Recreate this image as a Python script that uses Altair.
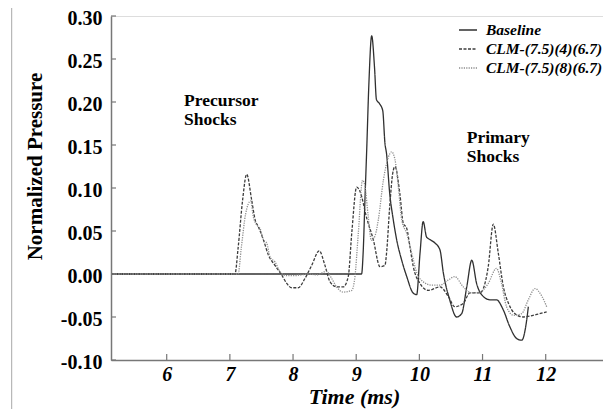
import altair as alt
import pandas as pd

series_names = ["Baseline", "CLM-(7.5)(4)(6.7)", "CLM-(7.5)(8)(6.7)"]

baseline_t = [5.118, 9.085, 9.11, 9.14, 9.166, 9.20, 9.245, 9.29, 9.32, 9.37, 9.42, 9.455, 9.48, 9.53,
              9.587, 9.64, 9.72, 9.80, 9.90, 9.957, 10.01, 10.06, 10.114, 10.168, 10.247, 10.326,
              10.38, 10.48, 10.59, 10.67, 10.75, 10.83, 10.906, 11.01, 11.118, 11.22, 11.33, 11.43,
              11.54, 11.62, 11.70, 11.725]
baseline_v = [0.0, 0.0, 0.025, 0.09, 0.144, 0.22, 0.277, 0.24, 0.203, 0.198, 0.19, 0.152, 0.14, 0.094,
              0.063, 0.040, 0.016, -0.003, -0.022, -0.024, 0.024, 0.061, 0.043, 0.040, 0.036, 0.028,
              0.001, -0.030, -0.050, -0.046, -0.015, 0.016, -0.011, -0.026, -0.030, -0.030, -0.042, -0.061,
              -0.075, -0.077, -0.053, -0.038]

clm4_t = [5.118, 7.08, 7.13, 7.20, 7.266, 7.345, 7.40, 7.45, 7.53, 7.61, 7.714, 7.82, 7.90, 7.98, 8.08,
          8.19, 8.295, 8.415, 8.505, 8.585, 8.69, 8.795, 8.874, 8.93, 9.007, 9.06, 9.166, 9.27, 9.376,
          9.455, 9.48, 9.53, 9.58, 9.614, 9.69, 9.745, 9.80, 9.85, 9.904, 10.01, 10.14, 10.326, 10.457,
          10.56, 10.695, 10.80, 10.96, 11.09, 11.17, 11.25, 11.33, 11.41, 11.51, 11.645, 11.80, 12.015]
clm4_v = [0.0, 0.0, 0.03, 0.085, 0.116, 0.086, 0.063, 0.055, 0.040, 0.022, 0.010, -0.001, -0.011, -0.016, -0.016,
          -0.005, 0.010, 0.027, 0.010, -0.009, -0.015, -0.015, -0.003, 0.048, 0.101, 0.096, 0.065, 0.040, 0.0085,
          0.010, 0.024, 0.078, 0.118, 0.125, 0.094, 0.059, 0.053, 0.032, 0.0085, -0.011, -0.019, -0.015, -0.026,
          -0.038, -0.034, -0.022, -0.022, 0.0085, 0.058, 0.024, -0.015, -0.034, -0.046, -0.050, -0.048, -0.044]

clm8_t = [5.118, 7.13, 7.18, 7.25, 7.33, 7.37, 7.424, 7.477, 7.53, 7.583, 7.635, 7.714, 7.793, 7.90, 8.004,
          8.137, 8.24, 8.374, 8.53, 8.61, 8.69, 8.795, 8.93, 8.98, 9.033, 9.10, 9.137, 9.19, 9.24, 9.30,
          9.35, 9.43, 9.51, 9.56, 9.614, 9.666, 9.72, 9.80, 9.88, 9.96, 10.06, 10.195, 10.326, 10.457,
          10.56, 10.695, 10.83, 10.96, 11.09, 11.22, 11.30, 11.38, 11.49, 11.62, 11.725, 11.83, 11.94, 12.015]
clm8_v = [0.0, 0.0, 0.03, 0.07, 0.085, 0.067, 0.057, 0.053, 0.040, 0.036, 0.020, 0.014, 0.003, -0.002, -0.002,
          -0.001, 0.0, -0.001, 0.003, -0.005, -0.015, -0.021, -0.019, -0.003, 0.047, 0.109, 0.103, 0.067, 0.039, 0.045,
          0.063, 0.109, 0.136, 0.142, 0.133, 0.102, 0.063, 0.047, 0.024, 0.001, -0.009, -0.013, -0.013, -0.007,
          -0.003, -0.015, -0.022, -0.021, -0.011, 0.0066, -0.011, -0.038, -0.048, -0.046, -0.030, -0.017, -0.026, -0.038]

x_ticks = [6, 7, 8, 9, 10, 11, 12]
y_ticks = [-0.10, -0.05, 0.00, 0.05, 0.10, 0.15, 0.20, 0.25, 0.30]

ann_text = ["Precursor", "Shocks", "Primary", "Shocks"]
ann_t = [6.274, 6.274, 10.749, 10.749]
ann_v = [0.195, 0.173, 0.152, 0.1306]

rows = []
for name, ts, vs in [(series_names[0], baseline_t, baseline_v),
                     (series_names[1], clm4_t, clm4_v),
                     (series_names[2], clm8_t, clm8_v)]:
    for i, (t, v) in enumerate(zip(ts, vs)):
        rows.append({"series": name, "t": t, "v": v, "i": i})
df = pd.DataFrame(rows)

XDOM = [5.118, 12.907]
YDOM = [-0.10, 0.30]
FONT = "Liberation Serif"
AX = "#777777"

xscale = alt.Scale(domain=XDOM, nice=False, zero=False)
yscale = alt.Scale(domain=YDOM, nice=False, zero=False)

X = alt.X("t:Q", scale=xscale, title="Time (ms)", axis=alt.Axis(
    values=x_ticks, format="d", title="Time (ms)", ticks=False, tickSize=0, grid=False,
    labelFont=FONT, labelFontSize=20, labelFontWeight="bold", labelFontStyle="italic",
    labelColor="black", labelPadding=4, labelFlush=False, labelBaseline="top",
    domainColor=AX, domainWidth=1.5,
    titleFont=FONT, titleFontSize=22, titleFontWeight="bold", titleFontStyle="italic",
    titleColor="black", titleX=243, titleY=43, titleAlign="center", titleBaseline="alphabetic"))
Y = alt.Y("v:Q", scale=yscale, title="Normalized Pressure", axis=alt.Axis(
    values=y_ticks, title="Normalized Pressure", ticks=False, tickSize=0, grid=False,
    labelExpr="datum.value < 0 ? '-' + format(-datum.value, '.2f') : format(datum.value, '.2f')",
    labelFont=FONT, labelFontSize=20, labelFontWeight="bold", labelColor="black",
    labelPadding=9, labelFlush=False, labelOffset=2,
    domainColor=AX, domainWidth=1.5,
    titleFont=FONT, titleFontSize=21, titleFontWeight="bold", titleColor="black",
    titleX=-76, titleY=150, titleAngle=270, titleAlign="center", titleBaseline="middle"))

leg = alt.Legend(title=None, orient="none", legendX=347, legendY=4,
                 symbolType="stroke", symbolSize=324, symbolStrokeWidth=1.3,
                 labelOffset=8, rowPadding=0, padding=0,
                 labelFont=FONT, labelFontSize=15.5, labelFontWeight="bold",
                 labelFontStyle="italic", labelColor="black", labelLimit=400)

lines = alt.Chart(df).mark_line(strokeWidth=1.3, interpolate="monotone").encode(
    x=X, y=Y,
    color=alt.Color("series:N", scale=alt.Scale(domain=series_names,
                                                range=["#303030", "#3c3c3c", "#8c8c8c"]),
                    legend=leg),
    strokeDash=alt.StrokeDash("series:N", scale=alt.Scale(domain=series_names,
                                                          range=[[1, 0], [3, 1.5], [1.2, 1.2]]),
                              legend=leg),
    order="i:Q",
)

xt = alt.Chart(pd.DataFrame({"t": x_ticks})).mark_rule(color=AX, strokeWidth=1.2).encode(
    x=X, y=alt.value(344), y2=alt.value(338))

yt = alt.Chart(pd.DataFrame({"v": y_ticks})).mark_rule(color=AX, strokeWidth=1.2).encode(
    y=Y, x=alt.value(0), x2=alt.value(5))

ann = alt.Chart(pd.DataFrame({"text": ann_text, "t": ann_t, "v": ann_v})).mark_text(
    font=FONT, fontSize=17.5, fontWeight="bold", color="black", align="left", baseline="alphabetic"
).encode(x=X, y=Y, text="text:N")

edge = alt.Chart(pd.DataFrame({"a": [0]})).mark_rule(color="#a8a8a8", strokeWidth=1).encode(
    x=alt.value(-99.3), y=alt.value(-20), y2=alt.value(420))

chart = alt.layer(lines, xt, yt, ann, edge).properties(
    width=492, height=344,
    autosize=alt.AutoSizeParams(type="none"),
    padding={"left": 103, "top": 8, "right": 0, "bottom": 49},
).configure_view(stroke=None).configure(background="white")

chart.save("out.html", embed_options={"renderer": "svg", "actions": False})
